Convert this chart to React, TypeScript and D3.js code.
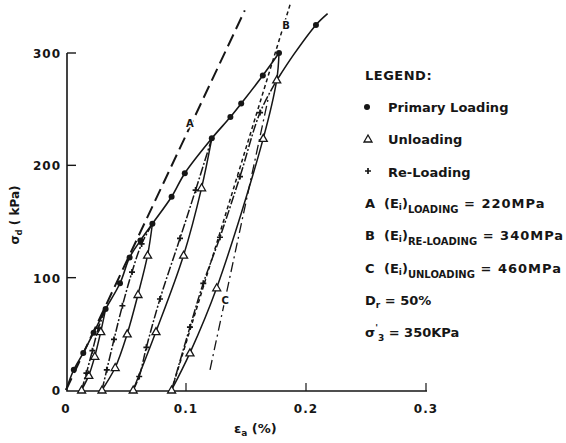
import * as d3 from 'd3';

// strain (%) , deviator stress (kPa)
type Pt = [number, number];

const xTicks = [0, 0.1, 0.2, 0.3];
const yTicks = [0, 100, 200, 300];

const primaryLoading: Pt[] = [
  [0, 0], [0.0065, 18], [0.0144, 33], [0.023, 51], [0.033, 72], [0.045, 95],
  [0.053, 118], [0.062, 133], [0.072, 148], [0.088, 172], [0.099, 193],
  [0.1215, 224], [0.137, 243], [0.146, 255], [0.164, 280], [0.1775, 300],
];
const primaryTail: Pt[] = [[0.1758, 276], [0.19, 299], [0.2083, 325], [0.218, 335]];
const tailDots: Pt[] = [[0.2083, 325]];

const unloading: Pt[][] = [
  [[0.033, 72], [0.029, 52], [0.024, 30], [0.019, 13], [0.013, 0]],
  [[0.072, 148], [0.068, 120], [0.06, 85], [0.051, 50], [0.041, 20], [0.03, 0]],
  [[0.1215, 224], [0.113, 180], [0.098, 120], [0.075, 52], [0.056, 0]],
  [[0.1775, 300], [0.1756, 276], [0.1644, 224], [0.1256, 91], [0.1033, 33], [0.088, 0]],
];

const reloading: Pt[][] = [
  [[0.013, 0], [0.017, 15], [0.022, 35], [0.027, 55], [0.033, 72]],
  [[0.03, 0], [0.034, 18], [0.04, 45], [0.047, 75], [0.055, 105], [0.063, 130], [0.072, 148]],
  [[0.056, 0], [0.061, 12], [0.067, 38], [0.0783, 81], [0.095, 135], [0.108, 178], [0.1215, 224]],
  [[0.088, 0], [0.1033, 56], [0.1144, 95], [0.1283, 136], [0.145, 190], [0.1617, 247], [0.1758, 276]],
];

// initial tangent lines
const lineA: Pt[] = [[0, 0], [0.149, 338]];
const lineB: Pt[] = [[0.088, 0], [0.187, 344]];
const lineC: Pt[] = [[0.12, 18], [0.169, 262]];
const tangentLabels = [
  { t: 'A', at: [0.1033, 238] as Pt },
  { t: 'B', at: [0.1833, 325] as Pt },
  { t: 'C', at: [0.1326, 80] as Pt },
];

const legendRows = ['Primary Loading', 'Unloading', 'Re-Loading'];
const moduli = [
  { k: 'A', sub: 'LOADING', v: '220MPa' },
  { k: 'B', sub: 'RE-LOADING', v: '340MPa' },
  { k: 'C', sub: 'UNLOADING', v: '460MPa' },
];

const W = 566, H = 443;
const ink = '#161616';
const font = '"DejaVu Sans", sans-serif';

const x = d3.scaleLinear().domain([0, 0.3]).range([66, 426]);
const y = d3.scaleLinear().domain([0, 300]).range([390, 53]);

const curve = d3.line<Pt>().x(d => x(d[0])).y(d => y(d[1])).curve(d3.curveCatmullRom.alpha(0.5));
const straight = d3.line<Pt>().x(d => x(d[0])).y(d => y(d[1]));

function Dot({ cx, cy }: { cx: number; cy: number }) {
  return <circle cx={cx} cy={cy} r={3} fill={ink} />;
}
function Tri({ cx, cy }: { cx: number; cy: number }) {
  const s = 4;
  return (
    <path
      d={`M${cx},${cy - s}L${cx + s},${cy + s * 0.75}L${cx - s},${cy + s * 0.75}Z`}
      fill="white" stroke={ink} strokeWidth={1.3}
    />
  );
}
function Plus({ cx, cy }: { cx: number; cy: number }) {
  const s = 3;
  return (
    <path d={`M${cx - s},${cy}H${cx + s}M${cx},${cy - s}V${cy + s}`} stroke={ink} strokeWidth={1.7} />
  );
}

export default function App() {
  const lgX = 365;
  return (
    <svg width={W} height={H} style={{ position: 'absolute', left: 0, top: 0, background: 'white' }}
      fontFamily={font} fontWeight="bold" fill={ink}>
      {/* axes */}
      <path d={`M${x(0) + 1},${y(300)}V${y(0) + 1}H${x(0.3) + 1}`} fill="none" stroke={ink} strokeWidth={1.6} />
      {yTicks.filter(v => v > 0).map(v => (
        <line key={v} x1={x(0) + 1} x2={x(0) + 10} y1={y(v)} y2={y(v)} stroke={ink} strokeWidth={1.4} />
      ))}
      {xTicks.filter(v => v > 0).map(v => (
        <line key={v} x1={x(v)} x2={x(v)} y1={y(0) + 1} y2={y(0) - 7} stroke={ink} strokeWidth={1.2} />
      ))}
      {yTicks.map(v => (
        <text key={v} x={x(0) - 5} y={y(v) + 5} fontSize={12} textAnchor="end" letterSpacing={1}>{v}</text>
      ))}
      {xTicks.map(v => (
        <text key={v} x={x(v)} y={413} fontSize={12} textAnchor="middle" letterSpacing={1}>{v === 0 ? '0' : v.toFixed(1)}</text>
      ))}
      <text x={234} y={433} fontSize={13}>ε<tspan fontSize={9} dy={3}>a</tspan><tspan dy={-3}> (%)</tspan></text>
      <text transform="translate(19,215) rotate(-90)" fontSize={12} textAnchor="middle">
        σ<tspan fontSize={8} dy={3}>d</tspan><tspan dy={-3}> ( kPa)</tspan>
      </text>

      {/* tangent lines */}
      <path d={straight(lineA) ?? ''} fill="none" stroke={ink} strokeWidth={2} strokeDasharray="13,6" />
      <path d={straight(lineB) ?? ''} fill="none" stroke={ink} strokeWidth={1.5} strokeDasharray="4,3" />
      <path d={straight(lineC) ?? ''} fill="none" stroke={ink} strokeWidth={1.3} strokeDasharray="10,4,2,4" />
      {tangentLabels.map(l => (
        <text key={l.t} x={x(l.at[0])} y={y(l.at[1]) + 4} fontSize={10} textAnchor="middle"
          stroke="white" strokeWidth={3} paintOrder="stroke">{l.t}</text>
      ))}

      {/* curves */}
      <path d={curve(primaryLoading) ?? ''} fill="none" stroke={ink} strokeWidth={1.6} />
      <path d={curve(primaryTail) ?? ''} fill="none" stroke={ink} strokeWidth={1.6} />
      {unloading.map((s, i) => (
        <path key={i} d={curve(s) ?? ''} fill="none" stroke={ink} strokeWidth={1.5} />
      ))}
      {reloading.map((s, i) => (
        <path key={i} d={curve(s) ?? ''} fill="none" stroke={ink} strokeWidth={1.5} strokeDasharray="9,2,2,2" />
      ))}

      {/* markers */}
      {primaryLoading.slice(1).concat(tailDots).map((d, i) => (
        <Dot key={i} cx={x(d[0])} cy={y(d[1])} />
      ))}
      {unloading.flatMap((s, i) => s.slice(1).map((d, j) => (
        <Tri key={`${i}-${j}`} cx={x(d[0])} cy={y(d[1])} />
      )))}
      {reloading.flatMap((s, i) => s.slice(1, -1).map((d, j) => (
        <Plus key={`${i}-${j}`} cx={x(d[0])} cy={y(d[1])} />
      )))}

      {/* legend */}
      <text x={lgX} y={80} fontSize={13} letterSpacing={0.5}>LEGEND:</text>
      <Dot cx={lgX + 2} cy={107} />
      <Tri cx={lgX + 3} cy={139} />
      <Plus cx={lgX + 3} cy={171} />
      {legendRows.map((t, i) => (
        <text key={t} x={388} y={112 + i * 32.3} fontSize={13}>{t}</text>
      ))}
      {moduli.map((m, i) => (
        <text key={m.k} x={lgX} y={208 + i * 32.3} fontSize={13}>
          {m.k}
          <tspan x={lgX + 19}>(E</tspan>
          <tspan fontSize={9} dy={2}>i</tspan>
          <tspan dy={-2}>)</tspan>
          <tspan fontSize={10} dy={5}>{m.sub}</tspan>
          <tspan dy={-5} letterSpacing={1}>{' = ' + m.v}</tspan>
        </text>
      ))}
      <text x={lgX} y={305} fontSize={13}>D<tspan fontSize={9} dy={3}>r</tspan><tspan dy={-3}> = 50%</tspan></text>
      <text x={lgX} y={337} fontSize={13}>
        σ<tspan fontSize={9} dy={-6}>'</tspan><tspan fontSize={9} dy={10}>3</tspan><tspan dy={-4}> = 350KPa</tspan>
      </text>
    </svg>
  );
}
